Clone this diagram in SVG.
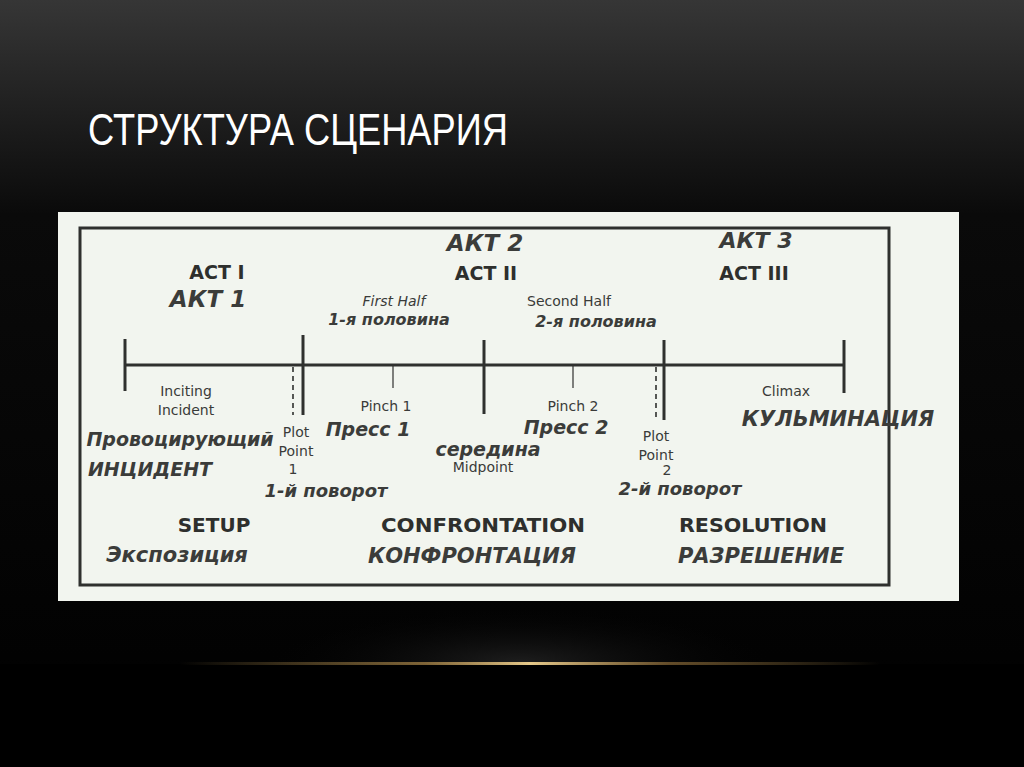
<svg xmlns="http://www.w3.org/2000/svg" width="1024" height="767" viewBox="0 0 1024 767">
<defs>
<linearGradient id="bg" x1="0" y1="0" x2="0" y2="1">
<stop offset="0" stop-color="#363636"/>
<stop offset="0.28" stop-color="#0a0a0a"/>
<stop offset="1" stop-color="#000"/>
</linearGradient>
<linearGradient id="gold" x1="0" y1="0" x2="1" y2="0">
<stop offset="0" stop-color="#c9a35a" stop-opacity="0"/>
<stop offset="0.35" stop-color="#b08a4a" stop-opacity="0.7"/>
<stop offset="0.5" stop-color="#e6c98a" stop-opacity="1"/>
<stop offset="0.7" stop-color="#a07a40" stop-opacity="0.6"/>
<stop offset="1" stop-color="#c9a35a" stop-opacity="0"/>
</linearGradient>
<radialGradient id="glow" cx="0.5" cy="0.5" r="0.5">
<stop offset="0" stop-color="#1e1e1e" stop-opacity="1"/>
<stop offset="1" stop-color="#000" stop-opacity="0"/>
</radialGradient>
<style>
.ln{stroke:#2f302e;stroke-width:3;fill:none}
.dash{stroke:#2f302e;stroke-width:1.6;stroke-dasharray:5 4;fill:none}
.thin{stroke:#2f302e;stroke-width:1.2;fill:none}
.bold{font-family:"DejaVu Sans","Liberation Sans",sans-serif;font-weight:bold;fill:#2e2f2d;text-anchor:middle}
.sm{font-family:"DejaVu Sans","Liberation Sans",sans-serif;fill:#3a3b39;text-anchor:middle;font-size:14px}
.hw{font-family:"DejaVu Sans","Liberation Sans",sans-serif;font-style:italic;font-weight:bold;fill:#3b3c3a;text-anchor:middle}
</style>
</defs>
<rect width="1024" height="767" fill="url(#bg)"/>
<ellipse cx="520" cy="663" rx="270" ry="60" fill="url(#glow)"/>
<rect x="0" y="664" width="1024" height="103" fill="#000"/>
<rect x="180" y="662" width="700" height="3" fill="url(#gold)"/>
<text x="88" y="145" font-family="Liberation Sans, Arial, sans-serif" font-size="44" fill="#ffffff" textLength="420" lengthAdjust="spacingAndGlyphs">СТРУКТУРА СЦЕНАРИЯ</text>

<rect x="58" y="212" width="901" height="389" fill="#f2f5ef"/>
<rect x="80" y="228" width="809" height="357" class="ln" stroke-width="2.5"/>

<g id="connectors">
<line x1="125" y1="365" x2="844" y2="365" class="ln"/>
<line x1="125" y1="339" x2="125" y2="391" class="ln" stroke-width="3.5"/>
<line x1="303" y1="335" x2="303" y2="415" class="ln" stroke-width="3.5"/>
<line x1="293" y1="367" x2="293" y2="415" class="dash"/>
<line x1="484" y1="340" x2="484" y2="414" class="ln"/>
<line x1="664" y1="340" x2="664" y2="420" class="ln" stroke-width="3.5"/>
<line x1="656" y1="367" x2="656" y2="420" class="dash"/>
<line x1="844" y1="340" x2="844" y2="393" class="ln" stroke-width="3.5"/>
<line x1="393" y1="366" x2="393" y2="388" class="thin"/>
<line x1="573" y1="366" x2="573" y2="388" class="thin"/>
</g>

<g id="act1">
<text x="217" y="279" class="bold" font-size="19">ACT I</text>
<text x="208" y="307" class="hw" font-size="23">АКТ 1</text>
</g>
<g id="act2">
<text x="485" y="251" class="hw" font-size="23">АКТ 2</text>
<text x="486" y="280" class="bold" font-size="19">ACT II</text>
<text x="394" y="306" class="sm" font-style="italic">First Half</text>
<text x="389" y="325" class="hw" font-size="16">1-я половина</text>
<text x="569" y="306" class="sm">Second Half</text>
<text x="596" y="327" class="hw" font-size="16">2-я половина</text>
</g>
<g id="act3">
<text x="756" y="248" class="hw" font-size="22">АКТ 3</text>
<text x="754" y="280" class="bold" font-size="19">ACT III</text>
</g>
<g id="inciting">
<text x="186" y="396" class="sm">Inciting</text>
<text x="186" y="415" class="sm">Incident</text>
<text x="180" y="446" class="hw" font-size="19">Провоцирующий</text>
<text x="150" y="476" class="hw" font-size="19">ИНЦИДЕНТ</text>
</g>
<g id="plotpoint1">
<text x="296" y="437" class="sm">Plot</text>
<text x="296" y="456" class="sm">Point</text>
<text x="293" y="474" class="sm" font-size="12">1</text>
<text x="326" y="497" class="hw" font-size="18">1-й поворот</text>
</g>
<g id="pinch1">
<text x="386" y="411" class="sm">Pinch 1</text>
<text x="368" y="436" class="hw" font-size="19">Пресс 1</text>
</g>
<g id="midpoint">
<text x="488" y="456" class="hw" font-size="19">середина</text>
<text x="483" y="472" class="sm">Midpoint</text>
</g>
<g id="pinch2">
<text x="573" y="411" class="sm">Pinch 2</text>
<text x="566" y="434" class="hw" font-size="19">Пресс 2</text>
</g>
<g id="plotpoint2">
<text x="656" y="441" class="sm">Plot</text>
<text x="656" y="460" class="sm">Point</text>
<text x="667" y="475" class="sm" font-size="12">2</text>
<text x="680" y="495" class="hw" font-size="18">2-й поворот</text>
</g>
<g id="climax">
<text x="786" y="396" class="sm">Climax</text>
<text x="838" y="426" class="hw" font-size="21">КУЛЬМИНАЦИЯ</text>
</g>
<g id="setup">
<text x="214" y="532" class="bold" font-size="20">SETUP</text>
<text x="177" y="562" class="hw" font-size="21">Экспозиция</text>
</g>
<g id="confrontation">
<text x="483" y="532" class="bold" font-size="20" textLength="204" lengthAdjust="spacingAndGlyphs">CONFRONTATION</text>
<text x="472" y="563" class="hw" font-size="21">КОНФРОНТАЦИЯ</text>
</g>
<g id="resolution">
<text x="753" y="532" class="bold" font-size="20" textLength="148" lengthAdjust="spacingAndGlyphs">RESOLUTION</text>
<text x="761" y="563" class="hw" font-size="21">РАЗРЕШЕНИЕ</text>
</g>
</svg>
